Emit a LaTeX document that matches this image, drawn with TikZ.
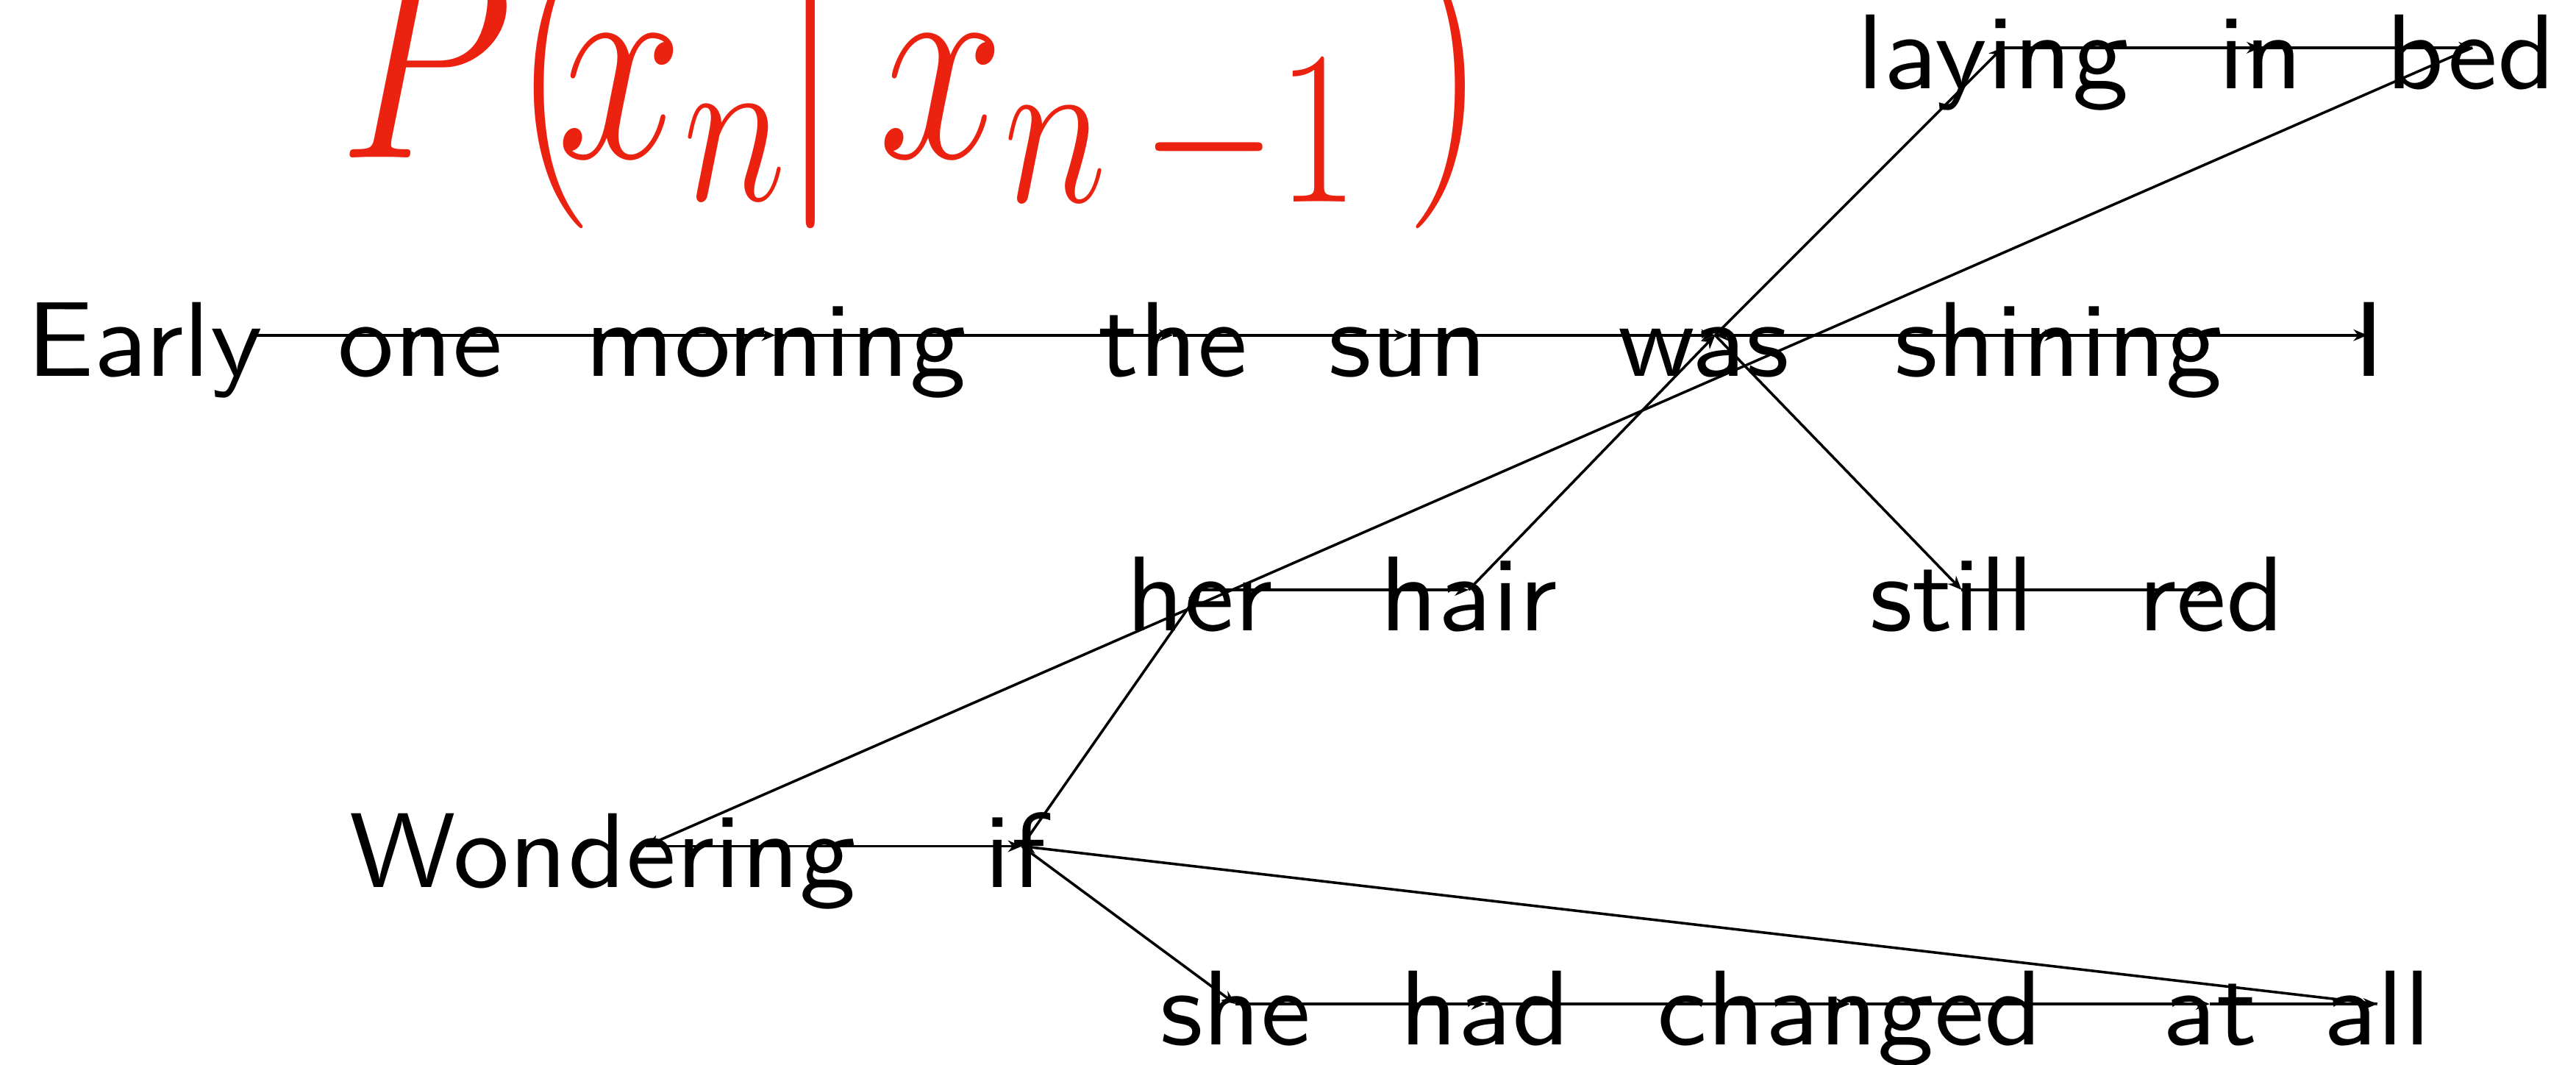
\RequirePackage{fix-cm}
\documentclass[tikz,border=0pt]{standalone}
\usepackage{fontspec}
\usepackage{xcolor}
\usepackage{tikz}
\usetikzlibrary{arrows.meta}

\newfontfamily\wordfont{lmsans10-regular.otf}[FakeStretch=1.06]
\definecolor{probred}{RGB}{236,34,16}
\DeclareMathSizes{49}{49}{38}{30}

\begin{document}
\begin{tikzpicture}[
  x=0.01cm, y=-0.01cm,
  word/.style={anchor=base, inner sep=0pt, font=\fontsize{18.4}{22}\selectfont\wordfont},
  arr/.style={-{Stealth[length=2.4pt, width=2pt]}, line width=0.45pt}
]
  \useasboundingbox (0,0) rectangle (1568,648);
  \clip (0,0) rectangle (1568,648);

  % conditional probability
  \node[anchor=base west, inner sep=0pt, text=probred] (prob) at (206,96)
    {\fontsize{49}{50}\selectfont\scalebox{0.8}[1]{$P(\hspace{-0.16em}x_n\hspace{-0.04em}|\hspace{0.16em}x_{n\hspace{0.15em}-1}\hspace{0.2em})$}};

  % words: name/text/x/baseline/hub x
  \foreach \n/\w/\x/\y/\hx in {
      early/Early/88/229/152, one/one/256/229/256, morning/morning/472/229/472,
      the/the/714/229/714, sun/sun/857/229/857, was/was/1037/229/1044,
      shining/shining/1253/229/1253, I/I/1442/229/1441,
      laying/laying/1213/54/1219, in/in/1376/54/1376, bed/bed/1504/54/1505,
      her/her/730/384/731, hair/hair/894/384/894, still/still/1188/384/1194,
      red/red/1346/384/1346,
      wondering/Wondering/367/540/393, if/if/618/540/622,
      she/she/752/636/752, had/had/904/636/904, changed/changed/1126/636/1126,
      at/at/1345/636/1345, all/all/1447/636/1447}{
    \node[word] (\n) at (\x,\y) {\w};
    \coordinate (h-\n) at (\hx,\y-25);
  }

  % bigram chain
  \foreach \a/\b in {early/one, one/morning, morning/the, the/sun, sun/was,
      was/shining, shining/I, I/was, was/laying, laying/in, in/bed,
      bed/wondering, wondering/if, if/she, she/had, had/changed,
      changed/at, at/all, all/if, if/her, her/hair, hair/was,
      was/still, still/red}{
    \draw[arr] (h-\a) -- (h-\b);
  }
\end{tikzpicture}
\end{document}
